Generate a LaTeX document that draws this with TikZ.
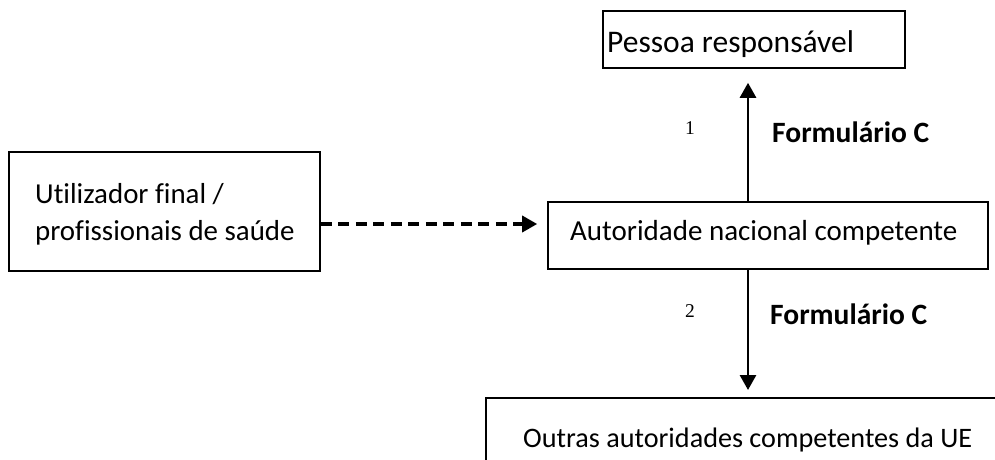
\documentclass[tikz,border=0pt]{standalone}
\usepackage{fontspec}
\setmainfont[Ligatures={NoCommon,NoContextual}]{Carlito}
\newfontfamily\numfont{Liberation Serif}
\usetikzlibrary{arrows.meta}
\begin{document}
\begin{tikzpicture}[x=1pt,y=-1pt,
  box/.style={draw,line width=1.6pt,inner sep=0pt},
  txt/.style={anchor=base west,inner sep=0pt},
  conn/.style={line width=2.8pt,-{Triangle[length=15pt,width=16pt]}},
  lbl/.style={font=\fontsize{29.5}{34}\selectfont\bfseries,anchor=base west,inner sep=0pt},
  num/.style={font=\numfont\fontsize{19.5}{22}\selectfont,anchor=base west,inner sep=0pt}]
\useasboundingbox (0,0) rectangle (995,459);
% boxes
\node[box,minimum width=302pt,minimum height=57pt] (pes) at (754,39.5) {};
\node[box,minimum width=311pt,minimum height=119pt] (util) at (164.5,211.5) {};
\node[box,minimum width=440pt,minimum height=67pt] (cen) at (768,235.5) {};
\node[box,anchor=north west,minimum width=530pt,minimum height=80pt] (out) at (485,397) {};
% texts
\node[txt,font=\fontsize{31.5}{36}\selectfont] (tpes) at (607,52) {Pessoa responsável};
\node[txt,font=\fontsize{28.9}{36}\selectfont] (tutil1) at (35,203) {Utilizador final /};
\node[txt,font=\fontsize{28.9}{36}\selectfont] (tutil2) at (35,240) {profissionais de saúde};
\node[txt,font=\fontsize{29}{36}\selectfont] (tcen) at (570,240) {Autoridade nacional competente};
\node[txt,font=\fontsize{28.2}{36}\selectfont] (tout) at (523,447) {Outras autoridades competentes da UE};
% connectors
\coordinate (ax) at (748,0);
\coordinate (dy) at (0,224);
\draw[conn,shorten >=14pt] (cen.north -| ax) -- (pes.south -| ax);
\draw[conn,shorten >=7pt] (cen.south -| ax) -- (out.north -| ax);
\draw[conn,line width=3.4pt,dash pattern=on 11pt off 6.5pt,shorten >=10pt] (util.east |- dy) -- (cen.west |- dy);
% labels
\node[num] (n1) at (685,134) {1};
\node[lbl] (f1) at (772,142) {Formulário C};
\node[num] (n2) at (685,317) {2};
\node[lbl] (f2) at (770,324) {Formulário C};
\end{tikzpicture}
\end{document}
